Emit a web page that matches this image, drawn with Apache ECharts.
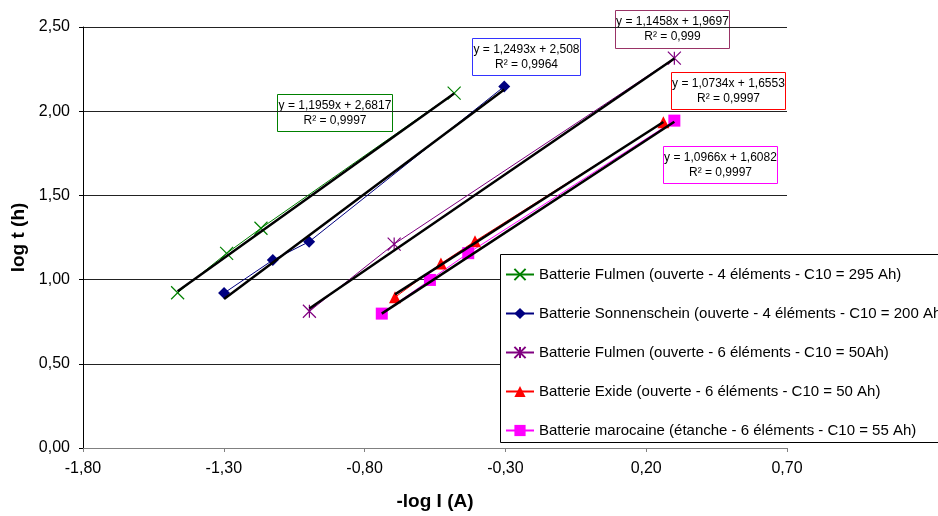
<!DOCTYPE html>
<html><head><meta charset="utf-8">
<script src="https://cdn.jsdelivr.net/npm/echarts@6/dist/echarts.min.js"></script>
<style>html,body{margin:0;padding:0;background:#fff}#c{width:938px;height:516px}</style>
</head><body><div id="c"></div>
<script>
// ---- data ----
const seriesNames = [
  'Batterie Fulmen (ouverte - 4 éléments - C10 = 295 Ah)',
  'Batterie Sonnenschein (ouverte - 4 éléments - C10 = 200 Ah)',
  'Batterie Fulmen (ouverte - 6 éléments - C10 = 50Ah)',
  'Batterie Exide (ouverte - 6 éléments - C10 = 50 Ah)',
  'Batterie marocaine (étanche - 6 éléments - C10 = 55 Ah)'
];
const fulmen4X = [-1.464, -1.290, -1.168, -0.482];
const fulmen4Y = [0.922, 1.156, 1.305, 2.107];
const sonnenX = [-1.299, -1.126, -0.997, -0.304];
const sonnenY = [0.920, 1.116, 1.225, 2.147];
const fulmen6X = [-0.996, -0.695, 0.300];
const fulmen6Y = [0.812, 1.211, 2.315];
const exideX = [-0.692, -0.529, -0.408, 0.261];
const exideY = [0.895, 1.095, 1.228, 1.934];
const marocX = [-0.739, -0.568, -0.432, 0.300];
const marocY = [0.798, 0.998, 1.157, 1.944];
const slopes = [1.1959, 1.2493, 1.1458, 1.0734, 1.0966];
const intercepts = [2.6817, 2.508, 1.9697, 1.6553, 1.6082];
const r2Values = [0.9997, 0.9964, 0.999, 0.9997, 0.9997];
const xTickMin = -1.8, xTickMax = 0.7, xTickStep = 0.5;
const yTickMin = 0, yTickMax = 2.5, yTickStep = 0.5;

// ---- styling ----
const colors = ['#008000', '#000080', '#800080', '#ff0000', '#ff00ff'];
const boxColors = ['#008000', '#3333ff', '#993366', '#ff0000', '#ff00ff'];
const symbols = [
  'path://M0,0L10,10M10,0L0,10',
  'diamond',
  'path://M0,0L10,10M10,0L0,10M5,0L5,10',
  'triangle',
  'rect'
];
const symbolSizes = [13, 12, 13, 12, 12];
const boxPos = [[277, 94, 115, 37], [472, 38, 108, 37], [615, 10, 114, 38], [671, 72, 114, 37], [663, 146, 114, 37]];
const FONT = '"Liberation Sans", Arial, sans-serif';

const xs = [fulmen4X, sonnenX, fulmen6X, exideX, marocX];
const ys = [fulmen4Y, sonnenY, fulmen6Y, exideY, marocY];
const fmt = v => (Math.round(v * 100) / 100).toFixed(2).replace('.', ',');
const dec = v => String(v).replace('.', ',');

const series = [];
xs.forEach((xa, i) => {
  const isStroke = symbols[i].startsWith('path://');
  series.push({
    name: seriesNames[i], type: 'line',
    data: xa.map((x, k) => [x, ys[i][k]]),
    symbol: symbols[i], symbolSize: symbolSizes[i], symbolKeepAspect: true,
    lineStyle: { color: colors[i], width: 1 },
    itemStyle: { color: isStroke ? 'rgba(0,0,0,0)' : colors[i], borderColor: colors[i], borderWidth: isStroke ? 1.2 : 0 },
    z: 3, animation: false, silent: true
  });
});
xs.forEach((xa, i) => {
  const x0 = Math.min(...xa), x1 = Math.max(...xa);
  series.push({
    name: 'trend' + i, type: 'line',
    data: [[x0, slopes[i] * x0 + intercepts[i]], [x1, slopes[i] * x1 + intercepts[i]]],
    symbol: 'none', lineStyle: { color: '#000', width: 2.5 },
    z: 4, animation: false, silent: true
  });
});

const graphic = boxPos.map((b, i) => ({
  type: 'group', left: b[0], top: b[1], z: 100,
  children: [
    { type: 'rect', shape: { x: 0, y: 0, width: b[2], height: b[3] },
      style: { fill: '#fff', stroke: boxColors[i], lineWidth: 1 } },
    { type: 'text', x: b[2] / 2, y: 11.5,
      style: { text: 'y = ' + dec(slopes[i]) + 'x + ' + dec(intercepts[i]), font: '12px ' + FONT, fill: '#000', align: 'center', verticalAlign: 'middle' } },
    { type: 'text', x: b[2] / 2, y: 26,
      style: { text: 'R² = ' + dec(r2Values[i]), font: '12px ' + FONT, fill: '#000', align: 'center', verticalAlign: 'middle' } }
  ]
}));
// legend frame (extends past the right edge of the picture, as in the original)
graphic.push({
  type: 'rect', z: 40,
  shape: { x: 500.5, y: 254.5, width: 480, height: 188 },
  style: { fill: '#fff', stroke: '#000', lineWidth: 1 }
});

const chart = echarts.init(document.getElementById('c'), null, { renderer: 'canvas' });
chart.setOption({
  animation: false,
  backgroundColor: '#fff',
  grid: { left: 83, right: 151, top: 27, bottom: 65, containLabel: false },
  xAxis: {
    type: 'value', min: xTickMin, max: xTickMax, interval: xTickStep,
    name: '-log I (A)', nameLocation: 'middle', nameGap: 44,
    nameTextStyle: { fontFamily: FONT, fontSize: 19, fontWeight: 'bold', color: '#000' },
    axisLine: { onZero: false, lineStyle: { color: '#808080', width: 1 } },
    axisTick: { show: true, inside: false, length: 4, lineStyle: { color: '#808080' } },
    axisLabel: { formatter: fmt, fontFamily: FONT, fontSize: 16, color: '#000', margin: 13 },
    splitLine: { show: false }
  },
  yAxis: {
    type: 'value', min: yTickMin, max: yTickMax, interval: yTickStep,
    name: 'log t (h)', nameLocation: 'middle', nameGap: 55,
    nameTextStyle: { fontFamily: FONT, fontSize: 19, fontWeight: 'bold', color: '#000' },
    axisLine: { show: true, onZero: false, lineStyle: { color: '#000', width: 1 } },
    axisTick: { show: true, inside: false, length: 4, lineStyle: { color: '#000' } },
    axisLabel: { formatter: fmt, fontFamily: FONT, fontSize: 16, color: '#000', margin: 13 },
    splitLine: { show: true, lineStyle: { color: '#222', width: 1 } }
  },
  legend: {
    data: seriesNames, orient: 'vertical', left: 500, top: 255,
    padding: [12, 0, 10, 5], itemGap: 24, itemWidth: 28, itemHeight: 14,
    borderWidth: 0,
    textStyle: { fontFamily: FONT, fontSize: 15, color: '#000' },
    selectedMode: false, z: 50
  },
  graphic: graphic,
  series: series
});
</script></body></html>
